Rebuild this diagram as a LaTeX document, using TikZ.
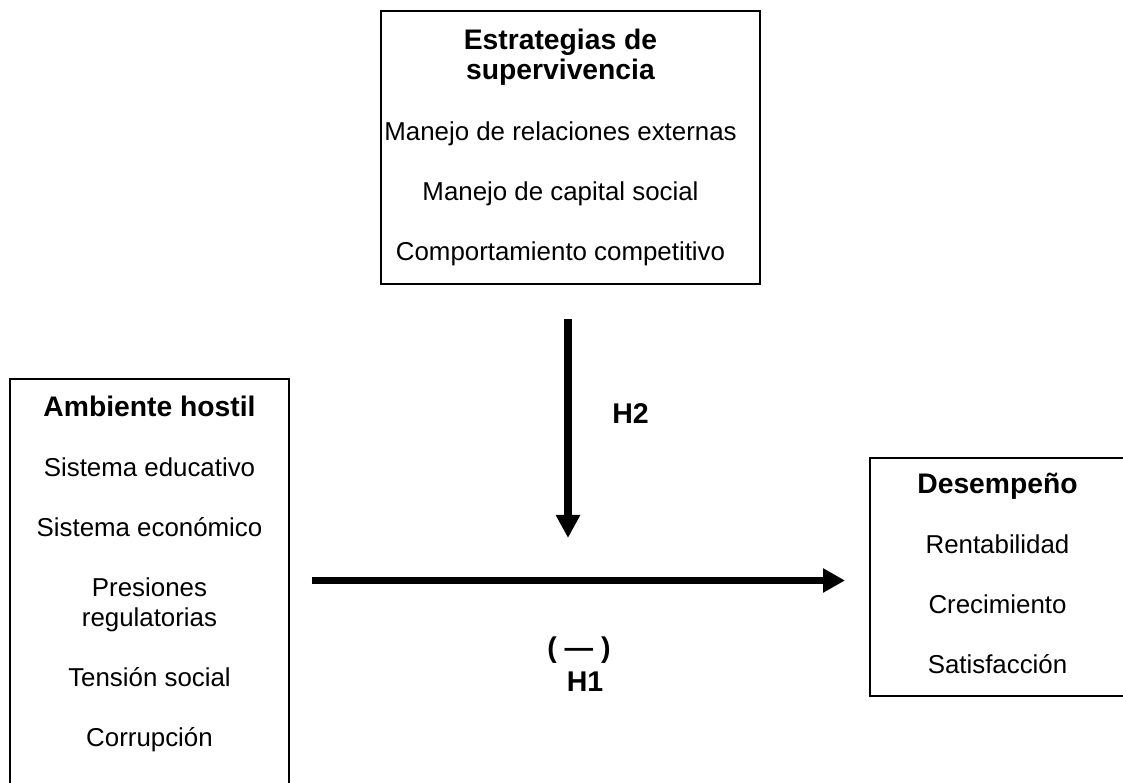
\documentclass[tikz,border=0pt]{standalone}
\usepackage{fontspec}
\setmainfont{Liberation Sans}
\usetikzlibrary{arrows.meta}
\newcommand{\hdtxt}[1]{{\fontsize{21.2pt}{22.5pt}\selectfont\bfseries #1}}
\begin{document}
\begin{tikzpicture}[x=0.75pt,y=-0.75pt,
  box/.style={draw=black,line width=1.5pt,rectangle,inner sep=0pt,outer sep=0pt},
  txt/.style={align=center,inner sep=0pt,font=\fontsize{19.4pt}{22.5pt}\selectfont},
  lbl/.style={inner sep=0pt,font=\fontsize{21.4pt}{22.5pt}\selectfont\bfseries},
  arr/.style={line width=6pt,-{Triangle[width=17.25pt,length=17.25pt]}},
  arrh/.style={line width=5.25pt,-{Triangle[width=17.25pt,length=16.5pt]}}]
\useasboundingbox (0,0) rectangle (1123,782);
% boxes
\node[box,minimum width=284.25pt,minimum height=204.75pt] (est) at (570.5,147.5) {};
\node[box,minimum width=209.6pt,minimum height=338pt] (amb) at (149.25,604.5) {};
\node[box,minimum width=202.5pt,minimum height=178.5pt] (des) at (1005,577) {};
% box texts
\node[txt,anchor=north] (estT) at (560.5,28.7) {\hdtxt{Estrategias de}\\\hdtxt{supervivencia}\\[23pt]
  Manejo de relaciones externas\\[23pt]Manejo de capital social\\[22.5pt]Comportamiento competitivo};
\node[txt,anchor=north] (ambT) at (149.5,395.5) {\hdtxt{Ambiente hostil}\\[22.5pt]Sistema educativo\\[22.5pt]
  Sistema económico\\[22.5pt]Presiones\\regulatorias\\[22.5pt]Tensión social\\[22.5pt]Corrupción};
\node[txt,anchor=north] (desT) at (997.5,472.7) {\hdtxt{Desempeño}\\[22.5pt]Rentabilidad\\[22.5pt]
  Crecimiento\\[22.5pt]Satisfacción};
% connectors
\coordinate (mid) at (568,580.5);
\draw[arrh,shorten <=17.06pt,shorten >=18.75pt] (amb.east |- mid) -- (des.west |- mid);
\draw[arr,shorten <=26.25pt,shorten >=31.9pt] (est.south -| mid) -- (mid);
% labels
\node[lbl,anchor=base] (h2) at (630.5,423) {H2};
\node[lbl,anchor=base] (h1s) at (579,657) {( — )};
\node[lbl,anchor=base] (h1) at (585,691) {H1};
\end{tikzpicture}
\end{document}
